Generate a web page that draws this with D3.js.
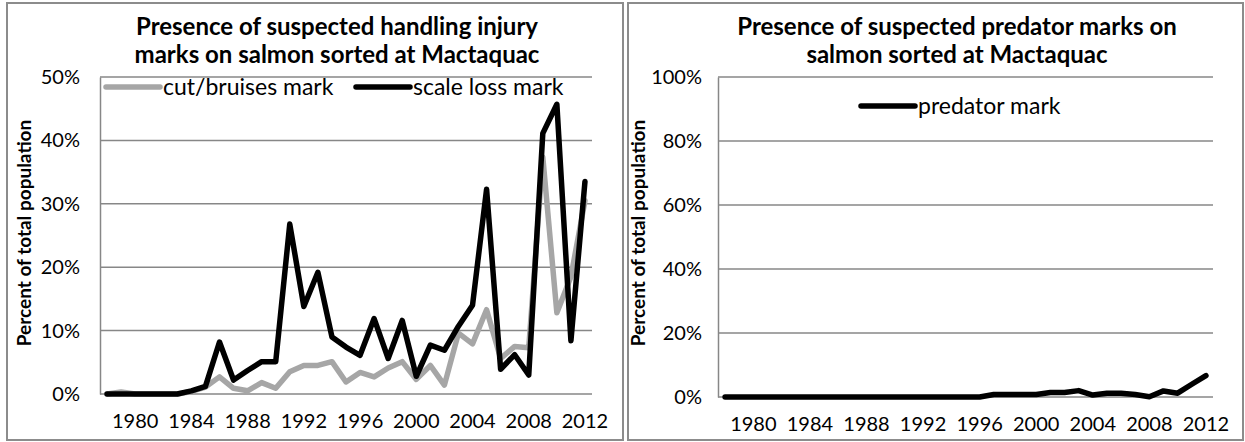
<!DOCTYPE html>
<html>
<head>
<meta charset="utf-8">
<script src="https://cdn.jsdelivr.net/npm/d3@7"></script>
<style>
    body { margin: 0; background: #fff; }
    text { font-family: Lato, "Open Sans", sans-serif; }
</style>
</head>
<body>
<script>
// years on the category axis
var years = [1978, 1979, 1980, 1981, 1982, 1983, 1984, 1985, 1986, 1987, 1988, 1989,
             1990, 1991, 1992, 1993, 1994, 1995, 1996, 1997, 1998, 1999, 2000, 2001,
             2002, 2003, 2004, 2005, 2006, 2007, 2008, 2009, 2010, 2011, 2012];
var yearTicks = [1980, 1984, 1988, 1992, 1996, 2000, 2004, 2008, 2012];

// percent of total population
var cutBruises = [0, 0.3, 0, 0, 0, 0, 0.4, 1.1, 2.7, 0.9, 0.5, 1.8,
                  0.9, 3.5, 4.5, 4.5, 5.1, 1.9, 3.4, 2.7, 4.1, 5.1, 2.3, 4.5,
                  1.4, 9.6, 7.9, 13.3, 5.6, 7.5, 7.3, 37.4, 12.8, 18.5, 30.5];
var scaleLoss = [0, 0, 0, 0, 0, 0, 0.5, 1.2, 8.2, 2.2, 3.7, 5.1,
                 5.1, 26.8, 13.8, 19.2, 9.0, 7.4, 6.1, 11.9, 5.6, 11.6, 2.8, 7.7,
                 6.9, 10.7, 14.0, 32.3, 3.9, 6.2, 3.0, 41.1, 45.7, 8.4, 33.5];
var predator = [0, 0, 0, 0, 0, 0, 0, 0, 0, 0, 0, 0,
                0, 0, 0, 0, 0, 0, 0, 0.8, 0.8, 0.8, 0.8, 1.4,
                1.4, 2.0, 0.6, 1.2, 1.2, 0.8, 0.1, 1.9, 1.2, 4.0, 6.7];

var leftTicks = [0, 10, 20, 30, 40, 50];
var rightTicks = [0, 20, 40, 60, 80, 100];

function init() {
    var w = 1245;
    var h = 442;
    var gridColor = "#878787";

    var svg = d3.select("body")
                .append("svg")
                .attr("width", w)
                .attr("height", h);

    function panel(opt) {
        // frame around the panel
        svg.append("rect")
            .attr("x", opt.box[0])
            .attr("y", opt.box[1])
            .attr("width", opt.box[2] - opt.box[0])
            .attr("height", opt.box[3] - opt.box[1])
            .attr("fill", "none")
            .attr("stroke", "#8c8c8c")
            .attr("stroke-width", 2);

        var xScale = d3.scaleBand()
                        .domain(years)
                        .range([opt.left, opt.right]);
        var yScale = d3.scaleLinear()
                        .domain([0, d3.max(opt.ticks)])
                        .range([opt.bottom, opt.top]);

        // gridlines
        svg.append("g")
            .selectAll("line")
            .data(opt.ticks)
            .enter()
            .append("line")
            .attr("x1", opt.left)
            .attr("x2", opt.right)
            .attr("y1", d => yScale(d))
            .attr("y2", d => yScale(d))
            .attr("stroke", gridColor)
            .attr("stroke-width", 1.5);

        // y axis
        var yAxis = d3.axisLeft(yScale)
                    .tickValues(opt.ticks)
                    .tickSize(0)
                    .tickPadding(opt.pad)
                    .tickFormat(d => d + "%");
        var gy = svg.append("g")
            .attr("transform", "translate(" + opt.left + ",0)")
            .call(yAxis);
        gy.select(".domain").attr("stroke", gridColor).attr("stroke-width", 1.5);
        gy.selectAll("text").style("font-size", "20px").attr("fill", "#000");

        // x axis labels
        var xAxis = d3.axisBottom(xScale)
                    .tickValues(yearTicks)
                    .tickSize(0)
                    .tickPadding(20);
        var gx = svg.append("g")
            .attr("transform", "translate(0," + opt.bottom + ")")
            .call(xAxis);
        gx.select(".domain").remove();
        gx.selectAll("text").style("font-size", "20px").attr("fill", "#000");

        // lines
        var line = d3.line()
                    .x((d, i) => xScale(years[i]) + xScale.bandwidth() / 2)
                    .y(d => yScale(d));
        opt.series.forEach(function(s) {
            svg.append("path")
                .datum(s.values)
                .attr("d", line)
                .attr("fill", "none")
                .attr("stroke", s.color)
                .attr("stroke-width", 5.5)
                .attr("stroke-linejoin", "round")
                .attr("stroke-linecap", "round");
        });

        // legend
        opt.legend.forEach(function(l) {
            svg.append("line")
                .attr("x1", l.x)
                .attr("x2", l.x + 54)
                .attr("y1", l.y)
                .attr("y2", l.y)
                .attr("stroke", l.color)
                .attr("stroke-width", 5.5)
                .attr("stroke-linecap", "round");
            svg.append("text")
                .attr("x", l.x + 57)
                .attr("y", l.y)
                .attr("dy", "0.35em")
                .style("font-size", "23px")
                .text(l.label);
        });

        // title
        svg.append("text")
            .attr("x", opt.titleX)
            .attr("y", 27)
            .attr("dy", "0.35em")
            .attr("text-anchor", "middle")
            .style("font-size", "24px")
            .style("font-weight", "bold")
            .text(opt.title[0]);
        svg.append("text")
            .attr("x", opt.titleX)
            .attr("y", 55)
            .attr("dy", "0.35em")
            .attr("text-anchor", "middle")
            .style("font-size", "24px")
            .style("font-weight", "bold")
            .text(opt.title[1]);

        // y axis title
        svg.append("text")
            .attr("transform", "translate(" + opt.axisTitleX + "," + 233 + ") rotate(-90)")
            .attr("dy", "0.35em")
            .attr("text-anchor", "middle")
            .style("font-size", "19px")
            .style("font-weight", "bold")
            .text("Percent of total population");
    }

    panel({
        box: [7, 3, 623, 440],
        left: 100, right: 592, top: 77, bottom: 394, pad: 20,
        ticks: leftTicks,
        series: [
            {values: cutBruises, color: "#a6a6a6"},
            {values: scaleLoss, color: "#000"}
        ],
        legend: [
            {x: 106, y: 87, color: "#a6a6a6", label: "cut/bruises mark"},
            {x: 356, y: 87, color: "#000", label: "scale loss mark"}
        ],
        title: ["Presence of suspected handling injury", "marks on salmon sorted at Mactaquac"],
        titleX: 337,
        axisTitleX: 24
    });

    panel({
        box: [628, 3, 1243, 440],
        left: 718, right: 1213, top: 77, bottom: 397, pad: 16,
        ticks: rightTicks,
        series: [
            {values: predator, color: "#000"}
        ],
        legend: [
            {x: 861, y: 106, color: "#000", label: "predator mark"}
        ],
        title: ["Presence of suspected predator marks on", "salmon sorted at Mactaquac"],
        titleX: 957,
        axisTitleX: 638
    });
}
window.onload = init;
</script>
</body>
</html>
